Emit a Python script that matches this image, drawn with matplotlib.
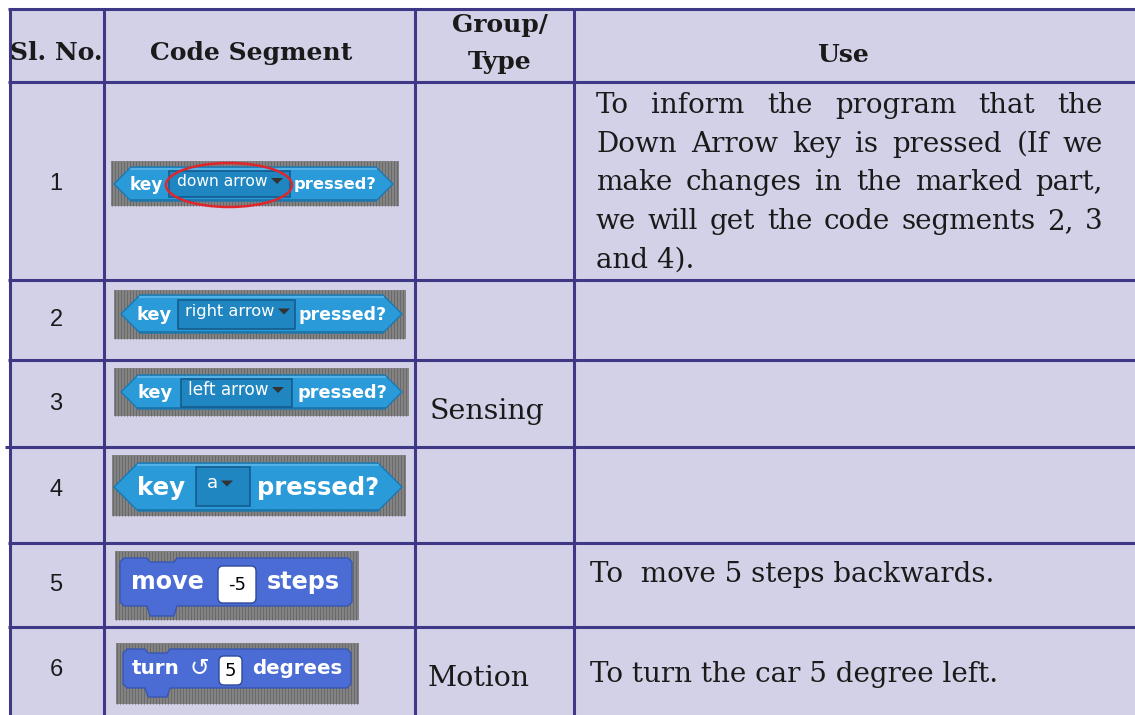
import matplotlib
matplotlib.use("Agg")
import matplotlib.pyplot as plt
import numpy as np
from matplotlib.patches import Ellipse, FancyBboxPatch, Polygon, Rectangle

W, H = 1135, 715

# ---- table content ----
headers = ["Sl. No.", "Code Segment", "Group/\nType", "Use"]
serials = ["1", "2", "3", "4", "5", "6"]
segments = [
    ("key", "down arrow", "pressed?"),
    ("key", "right arrow", "pressed?"),
    ("key", "left arrow", "pressed?"),
    ("key", "a", "pressed?"),
    ("move", "-5", "steps"),
    ("turn", "5", "degrees"),
]
segment_kinds = ["sensing", "sensing", "sensing", "sensing", "motion", "motion"]
group_names = ["Sensing", "Motion"]
group_rows = [2, 5]
use_lines = [
    ["To inform the program that the",
     "Down Arrow key is pressed (If we",
     "make changes in the marked part,",
     "we will get the code segments 2, 3",
     "and 4)."],
    [], [], [],
    ["To  move 5 steps backwards."],
    ["To turn the car 5 degree left."],
]

# ---- layout (pixels, y down) ----
COL_X = [9.5, 103.5, 415, 574]
ROW_Y = [9, 82, 280, 360, 447, 543, 627]
SERIAL_Y = [184, 320, 404, 490, 585, 670]
USE_BASE = [113, None, None, None, 582, 682]
USE_X = [596, None, None, None, 590, 590]
USE_RIGHT = 1103
USE_DY = 38.7
GROUP_POS = [(430, 419), (428, 686)]

# sensing: bg, body, slot boxes (x0, x1, y0, y1); label spans
SENSE = [
    dict(bg=(111, 399, 161, 206), body=(114, 393, 167, 201), slot=(169, 290, 171, 197),
         left=(130, 163), right=(294, 377), mid=(177, 268), fs=10.5),
    dict(bg=(114, 406, 290, 339), body=(121, 402, 295, 333), slot=(178, 295, 300, 329),
         left=(137, 172), right=(299, 387), mid=(185, 275), fs=11),
    dict(bg=(114, 409, 368, 416), body=(121, 402, 375, 409), slot=(181, 292, 379, 407),
         left=(138, 173), right=(297, 387), mid=(188, 269), fs=11),
    dict(bg=(112, 406, 455, 516), body=(114, 402, 463, 511), slot=(196, 250, 467, 506),
         left=(137, 185), right=(257, 380), mid=(207, 218), fs=13),
]
MOTION = [
    dict(bg=(115, 359, 551, 620), body=(120, 352, 558, 606), tab=(147, 177, 616),
         left=(131, 204), oval=(217, 257, 567, 602), right=(267, 340), icon=None),
    dict(bg=(116, 359, 643, 704), body=(123, 351, 649, 688), tab=(145, 170, 697),
         left=(132, 180), oval=(218, 243, 657, 684), right=(252, 342), icon=199),
]

FILL = "#d3d1e7"
GRID = "#3e3887"
SENSE_BLUE = "#2b9ad8"
SLOT_BLUE = "#1f86c2"
MOTION_BLUE = "#4a6cd4"
SERIF = "DejaVu Serif"

fig = plt.figure(figsize=(W / 100, H / 100), dpi=100)
ax = fig.add_axes([0, 0, 1, 1])
ax.set_xlim(0, W)
ax.set_ylim(H, 0)
ax.axis("off")
renderer = fig.canvas.get_renderer()


def width_of(t):
    return t.get_window_extent(renderer).width


def fit_text(x0, x1, y, s, **kw):
    t = ax.text((x0 + x1) / 2, y, s, ha="center", va="center", fontsize=10, **kw)
    w = width_of(t)
    if w > 0:
        t.set_fontsize(10 * (x1 - x0) / w)
    return t


def justified(lines, x0, x1, y0, dy, **kw):
    for i, line in enumerate(lines):
        y = y0 + i * dy
        words = line.split(" ")
        if i == len(lines) - 1 or len(words) == 1:
            ax.text(x0, y, line, ha="left", va="baseline", **kw)
            continue
        items = [ax.text(0, y, w, ha="left", va="baseline", **kw) for w in words]
        widths = [width_of(t) for t in items]
        gap = (x1 - x0 - sum(widths)) / (len(words) - 1)
        x = x0
        for t, wd in zip(items, widths):
            t.set_x(x)
            x += wd + gap


def stripes(x0, x1, y0, y1):
    ax.add_patch(Rectangle((x0, y0), x1 - x0, y1 - y0, fc="#858585", ec="none", zorder=2))
    ax.vlines(np.arange(x0 + 1, x1, 3), y0, y1, colors="#6a6a6a", lw=0.8, zorder=2)


def sensing_block(b, parts):
    stripes(*b["bg"])
    x0, x1, y0, y1 = b["body"]
    h = y1 - y0
    pts = [(x0, (y0 + y1) / 2), (x0 + h / 2, y0), (x1 - h / 2, y0),
           (x1, (y0 + y1) / 2), (x1 - h / 2, y1), (x0 + h / 2, y1)]
    ax.add_patch(Polygon(pts, closed=True, fc=SENSE_BLUE, ec="#1b78b0", lw=1, zorder=3))
    ax.plot([x0 + h / 2, x1 - h / 2], [y0 + 1.5, y0 + 1.5], color="#5cb9ea", lw=1.2, zorder=3)
    ax.plot([x0 + h / 2, x1 - h / 2], [y1 - 1.5, y1 - 1.5], color="#1a74aa", lw=1.2, zorder=3)
    sx0, sx1, sy0, sy1 = b["slot"]
    ax.add_patch(Rectangle((sx0, sy0), sx1 - sx0, sy1 - sy0, fc=SLOT_BLUE,
                           ec="#135d8e", lw=1.2, zorder=4))
    ym = (y0 + y1) / 2
    fit_text(*b["left"], ym + 1, parts[0], color="white", fontweight="bold",
             family="DejaVu Sans", zorder=5)
    fit_text(*b["right"], ym + 1, parts[2], color="white", fontweight="bold",
             family="DejaVu Sans", zorder=5)
    mt = fit_text(*b["mid"], (sy0 + sy1) / 2 - 3, parts[1], color="white",
                  family="DejaVu Sans", zorder=5)
    if len(parts[1]) == 1:
        mt.set_fontsize(b["fs"])
    tx = b["mid"][1] + 3
    ty = (sy0 + sy1) / 2 - 3
    ax.add_patch(Polygon([(tx, ty - 3), (tx + 12, ty - 3), (tx + 6, ty + 3)],
                         closed=True, fc="#333333", ec="none", zorder=5))


def motion_block(b, parts):
    stripes(*b["bg"])
    x0, x1, y0, y1 = b["body"]
    tx0, tx1, ty = b["tab"]
    c = 4
    nx0, nx1 = tx0, tx1
    pts = [(x0, y0 + c), (x0 + c, y0), (nx0, y0), (nx0 + 3, y0 + 4), (nx1 - 3, y0 + 4),
           (nx1, y0), (x1 - c, y0), (x1, y0 + c), (x1, y1 - c), (x1 - c, y1),
           (tx1, y1), (tx1 - 3, ty), (tx0 + 3, ty), (tx0, y1), (x0 + c, y1), (x0, y1 - c)]
    ax.add_patch(Polygon(pts, closed=True, fc=MOTION_BLUE, ec="#3a56b0", lw=1, zorder=3))
    ym = (y0 + y1) / 2
    fit_text(*b["left"], ym, parts[0], color="white", fontweight="bold",
             family="DejaVu Sans", zorder=5)
    fit_text(*b["right"], ym, parts[2], color="white", fontweight="bold",
             family="DejaVu Sans", zorder=5)
    ox0, ox1, oy0, oy1 = b["oval"]
    ax.add_patch(FancyBboxPatch((ox0 + 6, oy0 + 4), ox1 - ox0 - 12, oy1 - oy0 - 8,
                                boxstyle="round,pad=5", fc="white", ec="#2f4a9a",
                                lw=1, zorder=4))
    ax.text((ox0 + ox1) / 2, (oy0 + oy1) / 2 + 1, parts[1], ha="center", va="center",
            fontsize=13, family="DejaVu Sans", color="black", zorder=5)
    if b["icon"]:
        ax.text(b["icon"], ym, "\u21ba", ha="center", va="center", fontsize=17,
                color="white", family="DejaVu Sans", zorder=5)


# table background and grid
ax.add_patch(Rectangle((COL_X[0], ROW_Y[0]), W - COL_X[0], H - ROW_Y[0], fc=FILL,
                       ec="none", zorder=0))
for y in ROW_Y:
    ax.plot([5 if y == 447 else COL_X[0] - 1.5, W], [y, y], color=GRID, lw=2.2,
            solid_capstyle="butt", zorder=1)
for x in COL_X:
    ax.plot([x, x], [ROW_Y[0] - 1.5, H], color=GRID, lw=2.2, solid_capstyle="butt",
            zorder=1)

# header
ax.text(COL_X[0] + 1, 60, headers[0], ha="left", va="baseline", fontsize=18,
        fontweight="bold", family=SERIF, color="#1a1a1a")
ax.text(251, 60, headers[1], ha="center", va="baseline", fontsize=18,
        fontweight="bold", family=SERIF, color="#1a1a1a")
g1, g2 = headers[2].split("\n")
ax.text(500, 32, g1, ha="center", va="baseline", fontsize=18, fontweight="bold",
        family=SERIF, color="#1a1a1a")
ax.text(500, 69, g2, ha="center", va="baseline", fontsize=18, fontweight="bold",
        family=SERIF, color="#1a1a1a")
ax.text(843, 62, headers[3], ha="center", va="baseline", fontsize=18,
        fontweight="bold", family=SERIF, color="#1a1a1a")

# serial numbers
for s, y in zip(serials, SERIAL_Y):
    ax.text(56, y, s, ha="center", va="center", fontsize=17,
            family="Liberation Sans", color="#1a1a1a")

# code segments
si = mi = 0
for parts, kind in zip(segments, segment_kinds):
    if kind == "sensing":
        sensing_block(SENSE[si], parts)
        si += 1
    else:
        motion_block(MOTION[mi], parts)
        mi += 1
ax.add_patch(Ellipse((229, 185), 126, 44, fill=False, ec="#e0262b", lw=1.8, zorder=6))

# group names
for name, (x, y) in zip(group_names, GROUP_POS):
    ax.text(x, y, name, ha="left", va="baseline", fontsize=20.5, family=SERIF,
            color="#1a1a1a")

# use column
for i, lines in enumerate(use_lines):
    if lines:
        justified(lines, USE_X[i], USE_RIGHT, USE_BASE[i], USE_DY, fontsize=20,
                  family=SERIF, color="#1a1a1a")

fig.savefig("out.png", dpi=100)
